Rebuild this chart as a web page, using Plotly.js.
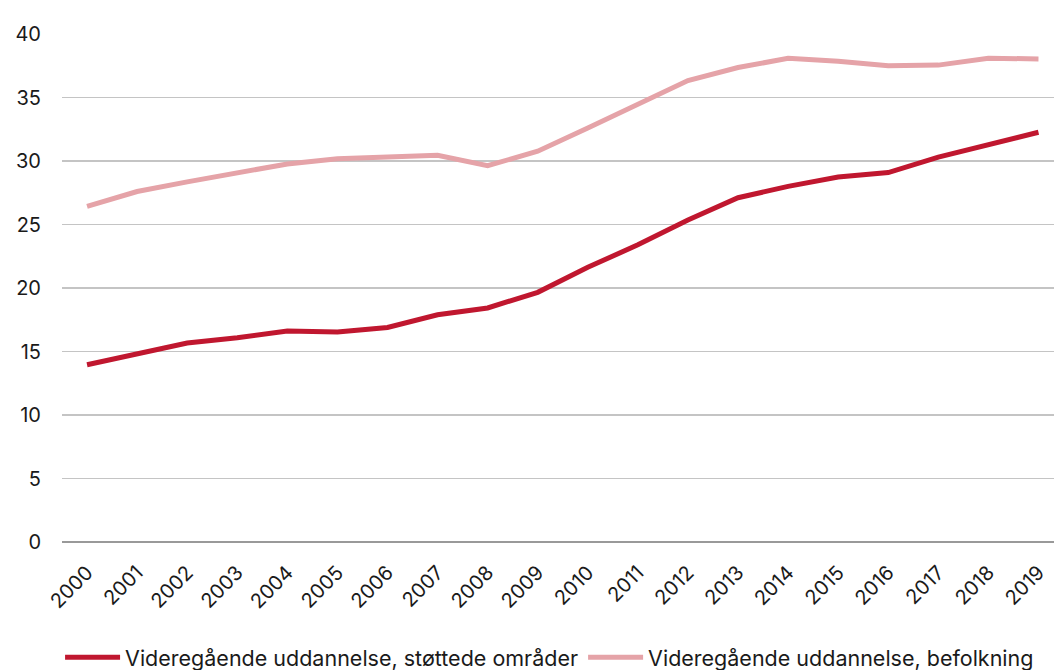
<!DOCTYPE html>
<html>
<head>
<meta charset="utf-8">
<script src="https://cdn.plot.ly/plotly-3.0.1.min.js"></script>
<style>html,body{margin:0;padding:0;background:#fff;}#chart{width:1054px;height:670px;}</style>
</head>
<body>
<div id="chart"></div>
<script>
const years = ["2000","2001","2002","2003","2004","2005","2006","2007","2008","2009","2010","2011","2012","2013","2014","2015","2016","2017","2018","2019"];
const stottedeOmrader = [13.96,14.86,15.67,16.08,16.62,16.54,16.89,17.89,18.43,19.66,21.63,23.4,25.35,27.11,28.0,28.74,29.09,30.31,31.26,32.26];
const befolkning = [26.43,27.6,28.36,29.04,29.77,30.17,30.31,30.45,29.63,30.77,32.6,34.5,36.33,37.36,38.09,37.85,37.5,37.55,38.09,38.04];
const seriesNames = ["Videregående uddannelse, støttede områder","Videregående uddannelse, befolkning"];
const yTicks = [0,5,10,15,20,25,30,35,40];

const traces = [
  {x: years, y: stottedeOmrader, name: seriesNames[0], type: 'scatter', mode: 'lines',
   line: {color: '#C0172F', width: 5}},
  {x: years, y: befolkning, name: seriesNames[1], type: 'scatter', mode: 'lines',
   line: {color: '#E5A3A8', width: 5}}
];

const layout = {
  width: 1054, height: 670,
  margin: {l: 62, r: 0, t: 34, b: 128, autoexpand: false},
  paper_bgcolor: '#fff', plot_bgcolor: '#fff',
  font: {family: 'Inter, "Noto Sans", sans-serif', size: 20, color: '#1a1a1a'},
  showlegend: true,
  legend: {orientation: 'h', xref: 'container', x: 0.057, xanchor: 'left',
           yref: 'container', y: 0.019, yanchor: 'middle',
           font: {size: 21.5, color: '#1a1a1a'}, itemwidth: 55, tracegroupgap: 0},
  xaxis: {type: 'category', range: [-0.5, 19.31], tickangle: -45, showgrid: false,
          zeroline: false, showline: false, ticks: 'outside', ticklen: 10, tickcolor: 'rgba(0,0,0,0)',
          tickfont: {size: 20, color: '#1a1a1a'}, automargin: false, fixedrange: true},
  yaxis: {range: [0, 40], tickvals: yTicks, ticktext: yTicks.map(String),
          showgrid: true, gridcolor: '#C4C4C4', gridwidth: 1.3,
          zeroline: true, zerolinecolor: '#999', zerolinewidth: 2,
          showline: false, ticks: 'outside', ticklen: 16, tickcolor: 'rgba(0,0,0,0)',
          tickfont: {size: 20, color: '#1a1a1a'}, automargin: false, fixedrange: true}
};

Plotly.newPlot('chart', traces, layout, {displayModeBar: false, staticPlot: true});
</script>
</body>
</html>
